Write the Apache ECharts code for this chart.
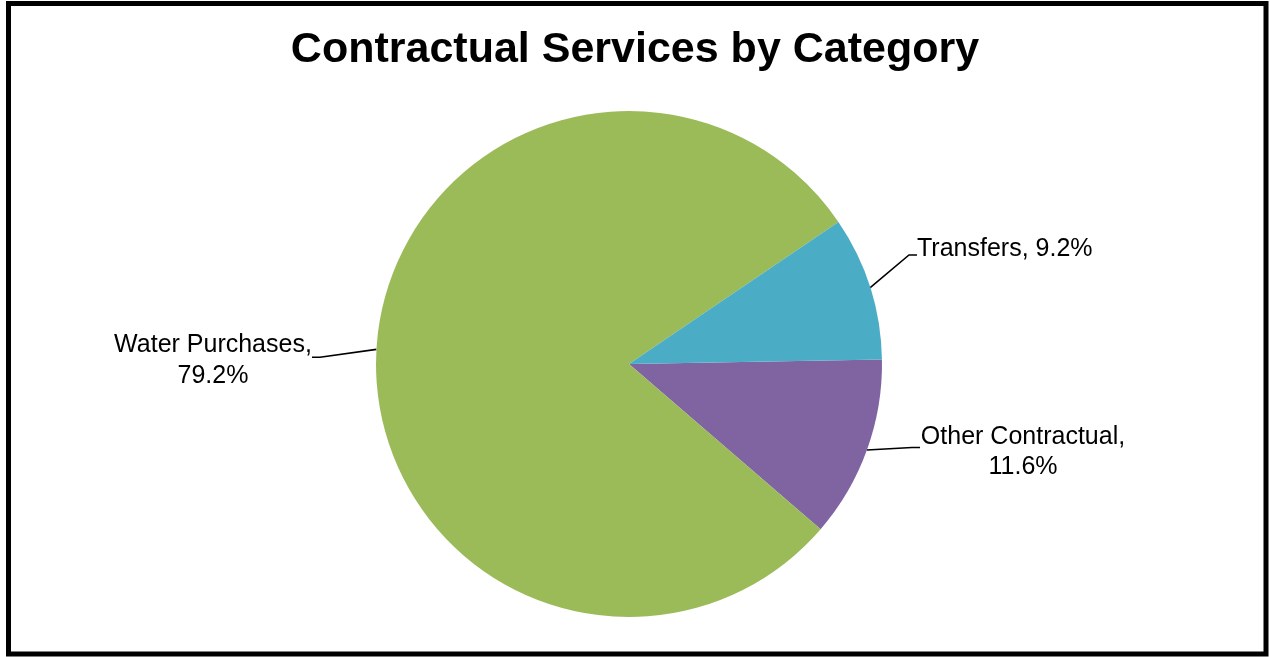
<!DOCTYPE html>
<html>
<head>
<meta charset="utf-8">
<script src="https://cdn.jsdelivr.net/npm/echarts@6/dist/echarts.min.js"></script>
<style>
  html, body { margin: 0; padding: 0; background: #fff; }
  #chart { width: 1270px; height: 657px; }
</style>
</head>
<body>
<div id="chart"></div>
<script>
// Contractual services split by category (percent of total)
const categories = ['Other Contractual', 'Water Purchases', 'Transfers'];
const shares = [11.6, 79.2, 9.2];
const sliceColors = ['#8064A2', '#9BBB59', '#4BACC6'];

const FONT = '"Liberation Sans", Arial, sans-serif';
const LABEL_SIZE = 25;

// anchor of each label box: left edge for right-hand labels, right edge for the left one
const labelSpots = {
  'Transfers': { x: 910, y: 258 },
  'Other Contractual': { x: 915, y: 446 },
  'Water Purchases': { x: 320, y: 357 }
};

const chart = echarts.init(document.getElementById('chart'), null, { renderer: 'canvas' });

const textBase = { fontFamily: FONT, fontSize: LABEL_SIZE, color: '#000' };

// the leader line meets the middle of the label box; empty spacer rows
// shift that middle so the line lands at the first line's baseline
function labelText(p) {
  const pct = p.value.toFixed(1) + '%';
  if (p.name === 'Transfers') return '{a|' + p.name + ', ' + pct + '}\n{s18|}';
  if (p.name === 'Water Purchases') return '{s8|}\n{w|' + p.name + ',}\n{w|' + pct + '}';
  return '{s12|}\n{o|' + p.name + ',}\n{o|' + pct + '}';
}

chart.setOption({
  backgroundColor: '#ffffff',
  animation: false,
  title: {
    text: 'Contractual Services by Category',
    left: 'center',
    top: 24,
    textStyle: { fontFamily: FONT, fontSize: 43, fontWeight: 'bold', color: '#000' }
  },
  graphic: [{
    type: 'rect',
    shape: { x: 8.5, y: 3.5, width: 1257.5, height: 650.5 },
    style: { fill: 'none', stroke: '#000', lineWidth: 5 },
    silent: true
  }],
  series: [{
    type: 'pie',
    center: [629, 364],
    radius: 253,
    startAngle: 1,
    clockwise: true,
    avoidLabelOverlap: false,
    data: categories.map((name, i) => {
      const item = { name: name, value: shares[i], itemStyle: { color: sliceColors[i] } };
      if (name === 'Transfers') item.label = { padding: [0, 0, 0, 7] };
      if (name === 'Other Contractual') item.label = { padding: [0, 0, 0, 5] };
      if (name === 'Water Purchases') item.label = { padding: [0, 8, 0, 0] };
      return item;
    }),
    label: {
      show: true,
      position: 'outside',
      fontFamily: FONT,
      fontSize: LABEL_SIZE,
      color: '#000',
      formatter: labelText,
      rich: {
        a: Object.assign({ lineHeight: 30 }, textBase),
        w: Object.assign({ lineHeight: 31, width: 198, align: 'center' }, textBase),
        o: Object.assign({ lineHeight: 30, width: 206, align: 'center' }, textBase),
        s18: { lineHeight: 18, fontSize: 1 },
        s12: { lineHeight: 12, fontSize: 1 },
        s8: { lineHeight: 8, fontSize: 1 }
      }
    },
    labelLine: {
      show: true,
      length: 10,
      length2: 8,
      smooth: false,
      lineStyle: { color: '#000', width: 1.6 }
    },
    labelLayout: params => {
      const spot = labelSpots[categories[params.dataIndex]];
      return { x: spot.x, y: spot.y, verticalAlign: 'middle' };
    }
  }]
});
</script>
</body>
</html>
